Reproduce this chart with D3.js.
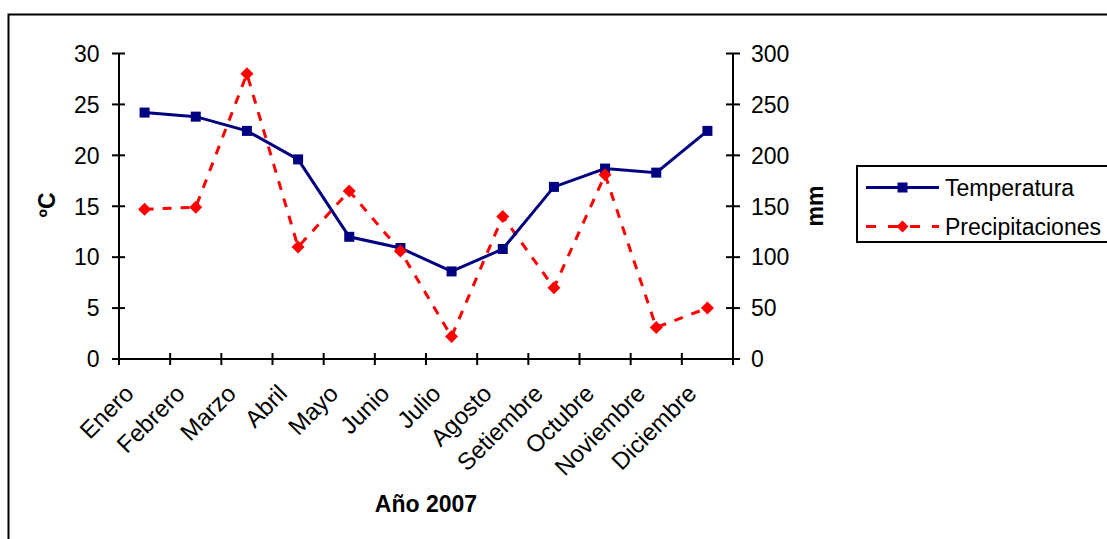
<!DOCTYPE html>
<html>
<head>
<meta charset="utf-8">
<script src="https://cdn.jsdelivr.net/npm/d3@7"></script>
<style>
  html, body { margin: 0; padding: 0; background: #fff; overflow: hidden; }
  svg { display: block; font-family: "Liberation Sans", Arial, sans-serif; }
</style>
</head>
<body>
<svg id="chart" width="1107" height="539"></svg>
<script>
const months = ["Enero", "Febrero", "Marzo", "Abril", "Mayo", "Junio", "Julio",
                "Agosto", "Setiembre", "Octubre", "Noviembre", "Diciembre"];
const temperatura = [24.2, 23.8, 22.4, 19.6, 12.0, 10.9, 8.6, 10.8, 16.9, 18.7, 18.3, 22.4];
const precipitaciones = [147, 149, 280, 110, 165, 106, 22, 140, 70, 181, 31, 50];
const tempTicks = [0, 5, 10, 15, 20, 25, 30];
const precTicks = [0, 50, 100, 150, 200, 250, 300];
const seriesNames = ["Temperatura", "Precipitaciones"];
const xTitle = "Año 2007";
const yLeftTitle = "ºC";
const yRightTitle = "mm";

(function () {
const svg = d3.select("#chart");
const FS = 23;

// outer chart border
svg.append("rect").attr("x", 8.5).attr("y", 14.5).attr("width", 1200).attr("height", 600)
  .attr("fill", "none").attr("stroke", "#000").attr("stroke-width", 2);

const pL = 119, pR = 733, pT = 53.5, pB = 359;

const x = d3.scaleBand().domain(months).range([pL, pR]).paddingInner(0).paddingOuter(0);
const yT = d3.scaleLinear().domain([0, 30]).range([pB, pT]);
const yP = d3.scaleLinear().domain([0, 300]).range([pB, pT]);
const cx = m => x(m) + x.bandwidth() / 2;

// left axis
const gL = svg.append("g").attr("transform", `translate(${pL},0)`);
gL.append("line").attr("y1", yT(30)).attr("y2", yT(0)).attr("stroke", "#000").attr("stroke-width", 2);
gL.selectAll("line.t").data(tempTicks).join("line").attr("class", "t")
  .attr("x1", -7).attr("x2", 6).attr("y1", d => yT(d)).attr("y2", d => yT(d))
  .attr("stroke", "#000").attr("stroke-width", 2);
gL.selectAll("text").data(tempTicks).join("text")
  .attr("x", -19.5).attr("y", d => yT(d)).attr("dy", "0.36em")
  .attr("text-anchor", "end").attr("font-size", FS).attr("fill", "#000").text(d => d);

// right axis
const gR = svg.append("g").attr("transform", `translate(${pR},0)`);
gR.append("line").attr("y1", yP(300)).attr("y2", yP(0)).attr("stroke", "#000").attr("stroke-width", 2);
gR.selectAll("line.t").data(precTicks).join("line").attr("class", "t")
  .attr("x1", -7).attr("x2", 7).attr("y1", d => yP(d)).attr("y2", d => yP(d))
  .attr("stroke", "#000").attr("stroke-width", 2);
gR.selectAll("text").data(precTicks).join("text")
  .attr("x", 18).attr("y", d => yP(d)).attr("dy", "0.36em")
  .attr("text-anchor", "start").attr("font-size", FS).attr("fill", "#000").text(d => d);

// x axis
const gX = svg.append("g");
gX.append("line").attr("x1", pL).attr("x2", pR).attr("y1", pB).attr("y2", pB)
  .attr("stroke", "#000").attr("stroke-width", 2);
const bounds = months.map(m => x(m)).concat([pR]);
gX.selectAll("line.t").data(bounds).join("line").attr("class", "t")
  .attr("x1", d => d).attr("x2", d => d).attr("y1", pB - 6).attr("y2", pB + 6)
  .attr("stroke", "#000").attr("stroke-width", 2);
gX.selectAll("text").data(months).join("text")
  .attr("transform", d => `translate(${cx(d) - 9.5},${pB + 36}) rotate(-45)`)
  .attr("text-anchor", "end").attr("font-size", 24).attr("fill", "#000").text(d => d);

// axis titles
svg.append("text").attr("x", (pL + pR) / 2).attr("y", 512).attr("text-anchor", "middle")
  .attr("font-size", FS).attr("font-weight", "bold").text(xTitle);
svg.append("text").attr("transform", "translate(47,205) rotate(-90)").attr("dy", "0.36em")
  .attr("text-anchor", "middle").attr("font-size", FS).attr("font-weight", "bold").text(yLeftTitle);
svg.append("text").attr("transform", "translate(815,206) rotate(-90)").attr("dy", "0.36em")
  .attr("text-anchor", "middle").attr("font-size", FS).attr("font-weight", "bold").text(yRightTitle);

// series
const navy = "#000080", red = "#FF0000";
const diamond = r => `M0,${-r}L${r},0L0,${r}L${-r},0Z`;

const lineP = d3.line().x((d, i) => cx(months[i])).y(d => yP(d));
svg.append("path").datum(precipitaciones).attr("d", lineP)
  .attr("fill", "none").attr("stroke", red).attr("stroke-width", 3)
  .attr("stroke-dasharray", "9,9");

const lineT = d3.line().x((d, i) => cx(months[i])).y(d => yT(d));
svg.append("path").datum(temperatura).attr("d", lineT)
  .attr("fill", "none").attr("stroke", navy).attr("stroke-width", 3);

svg.selectAll("rect.mt").data(temperatura).join("rect").attr("class", "mt")
  .attr("x", (d, i) => cx(months[i]) - 5).attr("y", d => yT(d) - 5)
  .attr("width", 10).attr("height", 10).attr("fill", navy);

svg.selectAll("path.mp").data(precipitaciones).join("path").attr("class", "mp")
  .attr("transform", (d, i) => `translate(${cx(months[i])},${yP(d)})`)
  .attr("d", diamond(6.5)).attr("fill", red);

// legend
const lg = svg.append("g");
lg.append("rect").attr("x", 857).attr("y", 166).attr("width", 300).attr("height", 76)
  .attr("fill", "#fff").attr("stroke", "#000").attr("stroke-width", 2);
lg.append("line").attr("x1", 866).attr("x2", 939).attr("y1", 187.5).attr("y2", 187.5)
  .attr("stroke", navy).attr("stroke-width", 3);
lg.append("rect").attr("x", 902.5 - 5).attr("y", 187.5 - 5).attr("width", 10).attr("height", 10).attr("fill", navy);
lg.append("text").attr("x", 945).attr("y", 187.5).attr("dy", "0.36em").attr("font-size", FS).text(seriesNames[0]);
lg.append("line").attr("x1", 866).attr("x2", 939).attr("y1", 226.5).attr("y2", 226.5)
  .attr("stroke", red).attr("stroke-width", 3).attr("stroke-dasharray", "10,12");
lg.append("path").attr("transform", "translate(902.5,226.5)").attr("d", diamond(6)).attr("fill", red);
lg.append("text").attr("x", 945).attr("y", 226.5).attr("dy", "0.36em").attr("font-size", FS).text(seriesNames[1]);
})();
</script>
</body>
</html>
